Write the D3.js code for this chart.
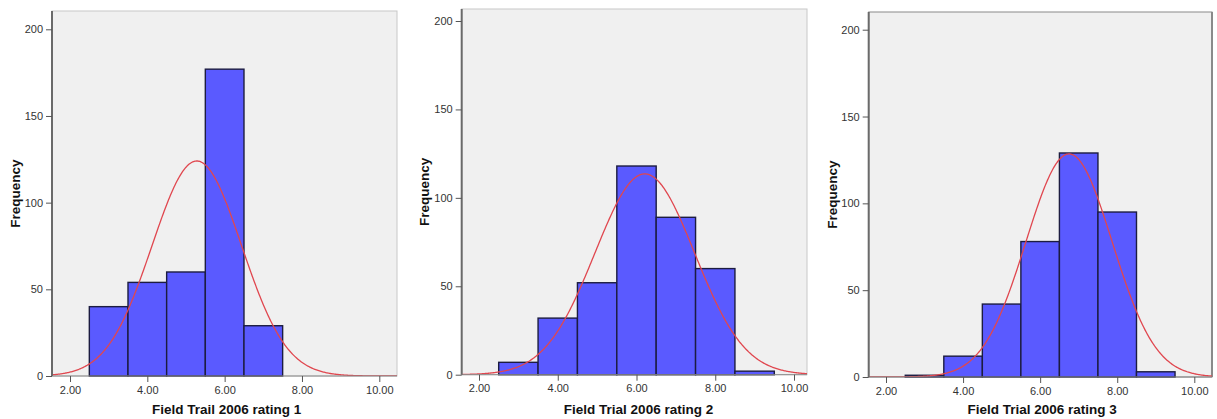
<!DOCTYPE html>
<html lang="en">
<head>
    <meta charset="UTF-8">
    <title>Field Trial 2006 ratings</title>
    <script src="https://d3js.org/d3.v7.min.js"></script>
    <style>
        body, html {
            margin: 0;
            padding: 0;
            background: #ffffff;
            overflow: hidden;
        }
        svg text {
            font-family: "Liberation Sans", Arial, sans-serif;
        }
    </style>
</head>
<body>
<div id="chart"></div>
<script>
(function() {
    // bins are one unit wide, starting at these values
    const binStarts = [2.5, 3.5, 4.5, 5.5, 6.5, 7.5, 8.5];
    const counts1 = [40, 54, 60, 177, 29, 0, 0];
    const counts2 = [7, 32, 52, 118, 89, 60, 2];
    const counts3 = [1, 12, 42, 78, 129, 95, 3];
    const means = [5.28, 6.21, 6.75];
    const sds = [1.158, 1.265, 1.118];
    const titles = ["Field Trail 2006 rating 1", "Field Trial 2006 rating 2", "Field Trial 2006 rating 3"];
    const xTicks = [2, 4, 6, 8, 10];
    const yTicks = [0, 50, 100, 150, 200];

    const allCounts = [counts1, counts2, counts3];

    // pixel layout of each panel (left/right edge, top, position of x=2, x=10, y=0, y=200)
    const panels = [
        {left: 52,    right: 397,  top: 11, x2: 70,  x10: 379.3,  y0: 376,   y200: 29.3, ylab: 15},
        {left: 461.7, right: 807,  top: 9,  x2: 479, x10: 794,    y0: 374.7, y200: 21,   ylab: 424},
        {left: 868.7, right: 1212, top: 12, x2: 886, x10: 1194.3, y0: 377,   y200: 29.7, ylab: 831.7}
    ];

    const svg = d3.select("#chart")
        .append("svg")
        .attr("width", 1217)
        .attr("height", 419);

    panels.forEach((p, i) => {
        const x = d3.scaleLinear().domain([2, 10]).range([p.x2, p.x10]);
        const y = d3.scaleLinear().domain([0, 200]).range([p.y0, p.y200]);
        const counts = allCounts[i];
        const n = d3.sum(counts);
        const g = svg.append("g");

        // plot background
        g.append("rect")
            .attr("x", p.left)
            .attr("y", p.top)
            .attr("width", p.right - p.left)
            .attr("height", p.y0 - p.top)
            .attr("fill", "#f0f0f0")
            .attr("stroke", i === 2 ? "#8a8a8a" : "#c8c8c8")
            .attr("stroke-width", 1);

        if (i === 2) {
            g.append("line")
                .attr("x1", p.right).attr("x2", p.right)
                .attr("y1", p.top).attr("y2", p.y0)
                .attr("stroke", "#8a8a8a")
                .attr("stroke-width", 2);
        }

        const clipId = "clip" + i;
        g.append("clipPath").attr("id", clipId)
            .append("rect")
            .attr("x", p.left)
            .attr("y", p.top)
            .attr("width", p.right - p.left)
            .attr("height", p.y0 - p.top);

        // bars
        const bins = binStarts.map((s, j) => ({start: s, count: counts[j]}))
            .filter(d => d.count > 0);

        g.append("g")
            .selectAll("rect")
            .data(bins)
            .enter().append("rect")
            .attr("x", d => x(d.start))
            .attr("y", d => y(d.count))
            .attr("width", d => x(d.start + 1) - x(d.start))
            .attr("height", d => y(0) - y(d.count))
            .attr("fill", "#5a5aff")
            .attr("stroke", "#1c1c40")
            .attr("stroke-width", 1.4);

        // normal curve scaled to the counts (bin width 1)
        const xs = d3.range(x.invert(p.left), x.invert(p.right) + 0.02, 0.02);
        const density = v => n / (sds[i] * Math.sqrt(2 * Math.PI)) *
            Math.exp(-0.5 * Math.pow((v - means[i]) / sds[i], 2));

        g.append("path")
            .datum(xs)
            .attr("clip-path", `url(#${clipId})`)
            .attr("fill", "none")
            .attr("stroke", "#e0474f")
            .attr("stroke-width", 1.3)
            .attr("d", d3.line()
                .x(d => x(d))
                .y(d => y(density(d))));

        // bottom line
        g.append("line")
            .attr("x1", p.left).attr("x2", p.right)
            .attr("y1", p.y0).attr("y2", p.y0)
            .attr("stroke", "#8a8a8a")
            .attr("stroke-width", 1);

        // y axis
        const yAxis = g.append("g")
            .attr("transform", `translate(${p.left},0)`)
            .call(d3.axisLeft(y).tickValues(yTicks).tickSize(6).tickPadding(3));
        yAxis.select(".domain")
            .attr("d", `M0,${p.top}V${p.y0}`)
            .attr("stroke", "#6a6a6a")
            .attr("stroke-width", 2);
        yAxis.selectAll(".tick line").attr("stroke", "#555");
        yAxis.selectAll(".tick text")
            .attr("font-size", 11)
            .attr("fill", "#333");

        // x axis
        const xAxis = g.append("g")
            .attr("transform", `translate(0,${p.y0})`)
            .call(d3.axisBottom(x).tickValues(xTicks).tickSize(6).tickPadding(4)
                .tickFormat(d3.format(".2f")));
        xAxis.select(".domain").remove();
        xAxis.selectAll(".tick line").attr("stroke", "#555");
        xAxis.selectAll(".tick text")
            .attr("font-size", 11)
            .attr("fill", "#333");

        // axis titles
        g.append("text")
            .attr("x", x(6) + 2)
            .attr("y", 414)
            .attr("text-anchor", "middle")
            .attr("font-size", 13.5)
            .attr("font-weight", "bold")
            .attr("fill", "#111")
            .text(titles[i]);

        g.append("text")
            .attr("transform", `translate(${p.ylab + 5},${(p.top + p.y0) / 2}) rotate(-90)`)
            .attr("text-anchor", "middle")
            .attr("font-size", 13.5)
            .attr("font-weight", "bold")
            .attr("fill", "#111")
            .text("Frequency");
    });
})();
</script>
</body>
</html>
